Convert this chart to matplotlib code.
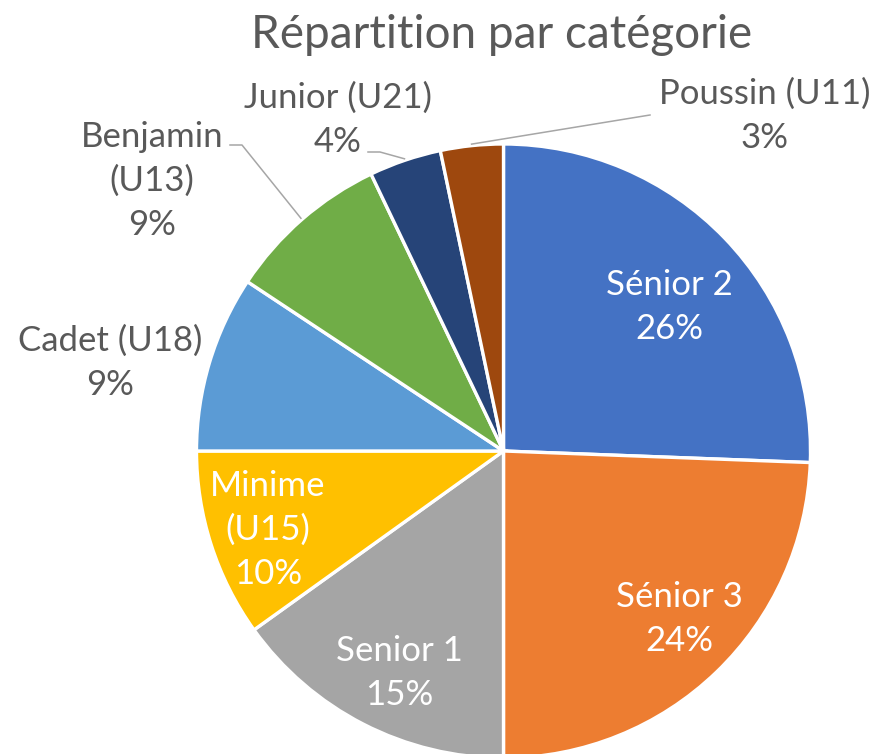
import matplotlib
matplotlib.use("Agg")
import matplotlib.pyplot as plt
import numpy as np

plt.rcParams['font.family'] = ['Lato', 'DejaVu Sans']

# data (shares in %)
categories = ["Sénior 2", "Sénior 3", "Senior 1", "Minime\n(U15)", "Cadet (U18)",
              "Benjamin\n(U13)", "Junior (U21)", "Poussin (U11)"]
shares = [25.6, 24.4, 15.1, 9.9, 9.3, 8.6, 3.8, 3.3]
colors = ["#4472C4", "#ED7D31", "#A5A5A5", "#FFC000", "#5B9BD5",
          "#70AD47", "#264478", "#9E480E"]

W, H = 874, 754
fig = plt.figure(figsize=(W / 100, H / 100), dpi=100)
ax = fig.add_axes([0, 0, 1, 1])

cx, cy, R = 503.5, H - 451, 307
wedges, _ = ax.pie(shares, colors=colors, startangle=90, counterclock=False,
                   center=(cx, cy), radius=R,
                   wedgeprops=dict(edgecolor="white", linewidth=2.4))
ax.set_xlim(0, W)
ax.set_ylim(0, H)
ax.set_aspect("equal")
ax.axis("off")

grey = "#595959"
fs = 25
# label centres in image px
label_pos = [(669, 307), (679, 619), (399, 673), (268, 530),
             (110, 363), (152, 181), (338, 120), (765, 116)]
inside = [True, True, True, True, False, False, False, False]
# leader start / elbow points (image px)
leaders = {5: [(230, 145), (242, 145)], 6: [(368, 152), (380, 152)], 7: [(650, 115)]}

for i, w in enumerate(wedges):
    mid = np.deg2rad((w.theta1 + w.theta2) / 2)
    txt = "{}\n{:.0f}%".format(categories[i], shares[i])
    tx, ty = label_pos[i]
    ax.text(tx, H - ty, txt, color="white" if inside[i] else grey,
            fontsize=fs, ha="center", va="center", linespacing=1.45)
    if i in leaders:
        ex = cx + 1.005 * R * np.cos(mid)
        ey = cy + 1.005 * R * np.sin(mid)
        xs = [p[0] for p in leaders[i]] + [ex]
        ys = [H - p[1] for p in leaders[i]] + [ey]
        ax.plot(xs, ys, color="#A6A6A6", lw=1.1, zorder=3)

fig.text(502 / W, 1 - 35 / H, "Répartition par catégorie", color=grey,
         fontsize=33, ha="center", va="center")

fig.savefig("out.png", dpi=100, facecolor="white")
